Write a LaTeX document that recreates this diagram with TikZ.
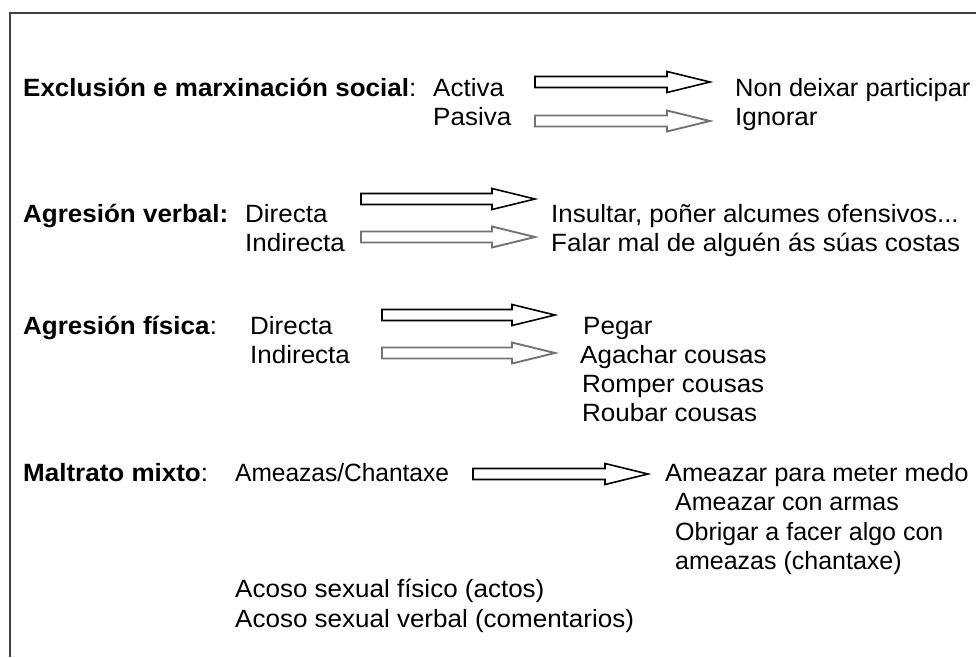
\documentclass[tikz,border=0pt]{standalone}
\usepackage{fontspec}
\setmainfont{Liberation Sans}
\usetikzlibrary{calc}
\newcommand\sx[2][1.04]{\scalebox{#1}[1]{#2}}
\newcommand\blockarrow[3]{%
  \draw[#1] ($(#2)+(0,5.5)$) -- ($(#3)+(-43,5.5)$) -- ($(#3)+(-43,10.5)$) -- (#3)
    -- ($(#3)+(-43,-10.5)$) -- ($(#3)+(-43,-5.5)$) -- ($(#2)+(0,-5.5)$) -- cycle;}
\begin{document}
\begin{tikzpicture}[x=1pt,y=-1pt,
  txt/.style={anchor=base west,inner sep=0pt,font=\fontsize{25}{29}\selectfont},
  barA/.style={draw=black,line width=1.6pt,fill=white,line join=miter},
  barB/.style={draw=black!55,line width=1.9pt,fill=white,line join=miter},
  frame/.style={draw=black!75,line width=2pt}]
\useasboundingbox (0,0) rectangle (976,657);
\coordinate (fTR) at (976,13);
\coordinate (fTL) at (10,13);
\coordinate (fBL) at (10,657);
\draw[frame] (fTR) -- (fTL) -- (fBL);

% Exclusion
\node[txt] (exc) at (23,96) {\sx{\textbf{Exclusión e marxinación social}:}};
\node[txt] (act) at (433,96) {\sx{Activa}};
\node[txt] (pas) at (433,125) {\sx{Pasiva}};
\node[txt] (nde) at (735,96) {\sx[1.02]{Non deixar participar}};
\node[txt] (ign) at (735,125) {\sx{Ignorar}};
\coordinate (a1s) at (535,82);  \coordinate (a1t) at (710,82);
\coordinate (a2s) at (535,121); \coordinate (a2t) at (710,121);
\blockarrow{barA}{a1s}{a1t}
\blockarrow{barB}{a2s}{a2t}

% Agresion verbal
\node[txt] (av) at (23,222) {\sx{\textbf{Agresión verbal:}}};
\node[txt] (vd) at (245,222) {\sx{Directa}};
\node[txt] (vi) at (245,251) {\sx{Indirecta}};
\node[txt] (ins) at (551,222) {\sx{Insultar, poñer alcumes ofensivos...}};
\node[txt] (fal) at (551,251) {\sx{Falar mal de alguén ás súas costas}};
\coordinate (a3s) at (361,199); \coordinate (a3t) at (535,199);
\coordinate (a4s) at (361,237); \coordinate (a4t) at (535,237);
\blockarrow{barA}{a3s}{a3t}
\blockarrow{barB}{a4s}{a4t}

% Agresion fisica
\node[txt] (af) at (23,334) {\sx{\textbf{Agresión física}:}};
\node[txt] (fd) at (250,334) {\sx{Directa}};
\node[txt] (fi) at (250,363) {\sx{Indirecta}};
\node[txt] (peg) at (583,334) {\sx{Pegar}};
\node[txt] (aga) at (580,363) {\sx{Agachar cousas}};
\node[txt] (rom) at (582,392) {\sx{Romper cousas}};
\node[txt] (rou) at (582,421) {\sx{Roubar cousas}};
\coordinate (a5s) at (382,315); \coordinate (a5t) at (555,315);
\coordinate (a6s) at (382,353); \coordinate (a6t) at (555,353);
\blockarrow{barA}{a5s}{a5t}
\blockarrow{barB}{a6s}{a6t}

% Maltrato mixto
\node[txt] (mm) at (23,481) {\sx{\textbf{Maltrato mixto}:}};
\node[txt] (ame) at (235,481) {\sx[0.98]{Ameazas/Chantaxe}};
\node[txt] (m1) at (665,481) {\sx[1.02]{Ameazar para meter medo}};
\node[txt] (m2) at (675,510) {\sx[1.0]{Ameazar con armas}};
\node[txt] (m3) at (675,540) {\sx[1.0]{Obrigar a facer algo con}};
\node[txt] (m4) at (675,569) {\sx[1.0]{ameazas (chantaxe)}};
\coordinate (a7s) at (473,474); \coordinate (a7t) at (648,474);
\blockarrow{barA}{a7s}{a7t}

\node[txt] (ac1) at (235,597) {\sx{Acoso sexual físico (actos)}};
\node[txt] (ac2) at (235,627) {\sx{Acoso sexual verbal (comentarios)}};
\end{tikzpicture}
\end{document}
